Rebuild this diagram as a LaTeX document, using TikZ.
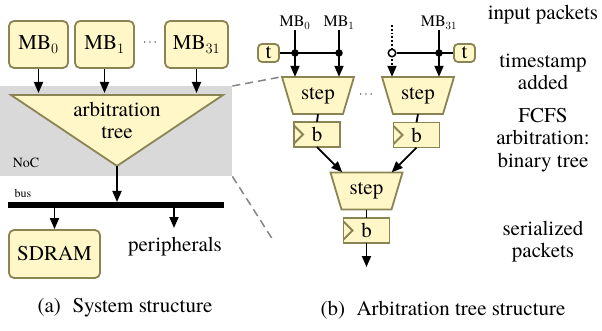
\documentclass[tikz,border=0pt]{standalone}
\usepackage[no-math]{fontspec}
\setmainfont{texgyretermes}[Extension=.otf,UprightFont=*-regular,BoldFont=*-bold,ItalicFont=*-italic,BoldItalicFont=*-bolditalic]
\usetikzlibrary{arrows.meta,calc}
\definecolor{boxfill}{HTML}{FFF7C7}
\definecolor{boxline}{HTML}{8A8455}
\definecolor{nocgray}{HTML}{D9D9D9}
\definecolor{zoomgray}{HTML}{858585}
\begin{document}
\begin{tikzpicture}[x=1pt,y=-1pt,
  big/.style={font=\fontsize{21}{22.5}\selectfont},
  mid/.style={font=\fontsize{16}{16}\selectfont},
  ybox/.style={draw=boxline,fill=boxfill,line width=1.8pt,rounded corners=5pt,inner sep=0pt,big},
  arr/.style={-{Triangle[length=11pt,width=9pt]},line width=1.8pt},
  plainline/.style={line width=1.8pt},
  dotnode/.style={circle,fill=black,inner sep=0pt,minimum size=7.5pt},
  steppic/.pic={
    \draw[draw=boxline,fill=boxfill,line width=1.8pt,line join=miter]
      (-36,-18.5) -- (36,-18.5) -- (25,18.5) -- (-25,18.5) -- cycle;
    \node[minimum width=72pt,minimum height=37pt,inner sep=0pt,big] (-n) {step};
  },
  bpic/.pic={
    \draw[draw=boxline,fill=boxfill,line width=1.8pt] (-23,-12.5) rectangle (23,12.5);
    \draw[draw=boxline,line width=1.8pt,line join=miter] (-23,-9) -- (-14,0) -- (-23,9);
    \node[minimum width=46pt,minimum height=25pt,inner sep=0pt,big] (-n) {b};
  }
]
\useasboundingbox (0,0) rectangle (602,331);

% ---------- (a) system structure ----------
\node[fill=nocgray,minimum width=232pt,minimum height=90pt,inner sep=0pt,anchor=north west] (nocbox) at (0,86) {};

\node[ybox,minimum width=59pt,minimum height=47pt] (mb0) at (38.5,44.5) {MB$_0$};
\node[ybox,minimum width=59pt,minimum height=47pt] (mb1) at (104.5,44.5) {MB$_1$};
\node[ybox,minimum width=63pt,minimum height=47pt] (mb31) at (196.5,44.5) {MB$_{31}$};
\node[font=\fontsize{12}{12}\selectfont] (dotsa) at (150,43) {$\cdots$};

\coordinate (tl) at (11,95);
\coordinate (tr) at (223,95);
\coordinate (tip) at (117,166);
\draw[draw=boxline,fill=boxfill,line width=1.8pt,line join=miter] (tl) -- (tr) -- (tip) -- cycle;
\node[big,align=center] (arbt) at (117,120.5) {arbitration\\tree};
\node[font=\fontsize{14}{14}\selectfont] (noclbl) at (26,163) {NoC};

\draw[arr] (mb0.south) -- ($(mb0.south |- tl)+(0,-2)$);
\draw[arr] (mb1.south) -- ($(mb1.south |- tl)+(0,-2)$);
\draw[arr] (mb31.south) -- ($(mb31.south |- tl)+(0,-2)$);

\coordinate (busl) at (8,205);
\coordinate (busr) at (224,205);
\draw[line width=6pt] (busl) -- (busr);
\node[font=\fontsize{12}{12}\selectfont] (buslbl) at (23,193) {bus};
\draw[arr] (tip) -- ($(tip |- busl)+(0,-3)$);

\node[ybox,minimum width=91pt,minimum height=48pt] (sdram) at (54.5,254) {SDRAM};
\node[big] (periph) at (175,247) {peripherals};
\coordinate (pin) at (174,228);
\draw[arr] (sdram.north |- busl) -- (sdram.north);
\draw[arr] (pin |- busl) -- (pin);

\node[big] (capa) at (125,308) {(a)\hspace{0.55em}System structure};

% ---------- (b) arbitration tree ----------
\pic (s1) at (318,95.5) {steppic};
\pic (s2) at (418,95.5) {steppic};
\pic (s3) at (366.5,191) {steppic};
\pic (b1) at (317,134.5) {bpic};
\pic (b2) at (416.5,135) {bpic};
\pic (b3) at (366.5,230.5) {bpic};
\node[font=\fontsize{12}{12}\selectfont] (dotsb) at (366,95) {$\cdots$};

\node[mid,anchor=south,inner sep=0.5pt] (m0) at (295,30) {MB$_0$};
\node[mid,anchor=south,inner sep=0.5pt] (m1) at (339,30) {MB$_1$};
\node[mid,anchor=south,inner sep=0.5pt] (m31) at (439,30) {MB$_{31}$};

\node[ybox,minimum width=21pt,minimum height=18pt,rounded corners=4pt] (t1) at (268.5,53) {t};
\node[ybox,minimum width=21pt,minimum height=18pt,rounded corners=4pt] (t2) at (464.5,53) {t};

\coordinate (dtop) at (392,25);
\draw[arr] (m0.south) -- (m0.south |- s1-n.north);
\draw[arr] (m1.south) -- (m1.south |- s1-n.north);
\draw[arr] (m31.south) -- (m31.south |- s2-n.north);
\draw[arr,dotted] (dtop) -- (dtop |- s2-n.north);

\node[dotnode] (d0) at (295,53) {};
\node[dotnode] (d1) at (339,53) {};
\node[dotnode] (d31) at (439,53) {};
\node[circle,draw=black,fill=white,line width=1.5pt,inner sep=0pt,minimum size=7.5pt] (oc) at (392,53) {};
\draw[plainline] (t1.east) -- (d1.center);
\draw[plainline] (oc.east) -- (t2.west);

\draw[plainline] (s1-n.south) -- (b1-n.north);
\draw[plainline] (s2-n.south) -- (b2-n.north);
\draw[plainline] (s3-n.south) -- (b3-n.north);
\draw[arr] (b1-n.south) -- ($(s3-n.north west)+(12,0)$);
\draw[arr] (b2-n.south) -- ($(s3-n.north east)+(-11,0)$);
\coordinate (outc) at (366.5,267);
\draw[arr] (b3-n.south) -- (outc);

\draw[zoomgray,line width=1.5pt,dash pattern=on 8pt off 5pt] (nocbox.north east) -- (s1-n.north west);
\coordinate (zend) at (273,240);
\draw[zoomgray,line width=1.5pt,dash pattern=on 8pt off 5pt] (nocbox.south east) -- (zend);

\node[big] (lab1) at (543,15) {input packets};
\node[big,align=center] (lab2) at (543,72) {timestamp\\added};
\node[big,align=center] (lab3) at (543,140) {FCFS\\arbitration:\\binary tree};
\node[big,align=center] (lab4) at (543,241.5) {serialized\\packets};

\node[big] (capb) at (443,310) {(b)\hspace{0.55em}Arbitration tree structure};
\end{tikzpicture}
\end{document}
